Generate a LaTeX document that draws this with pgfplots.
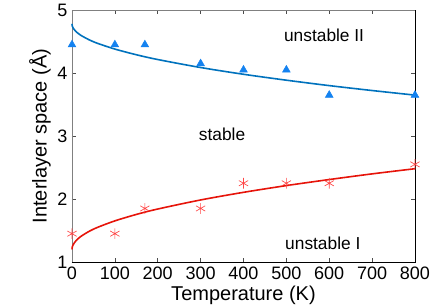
\documentclass[border=0pt]{standalone}
\usepackage{pgfplots}
\pgfplotsset{compat=1.18}
\usepackage{fontspec}
\setmainfont{Liberation Sans}
\definecolor{lineblue}{RGB}{0,114,189}
\definecolor{markblue}{RGB}{20,130,240}
\definecolor{linered}{RGB}{230,20,10}
\definecolor{markred}{RGB}{255,70,70}
\begin{document}
\begin{tikzpicture}
\path[use as bounding box] (-54pt,-32.25pt) rectangle (273pt,196.5pt);
\begin{axis}[
  at={(0,0)}, anchor=south west,
  scale only axis, width=257.25pt, height=189pt,
  xmin=0, xmax=800, ymin=1, ymax=5,
  xtick={0,100,...,800}, ytick={1,2,3,4,5},
  tick align=inside,
  tick style={black!70, line width=0.4pt},
  major tick length=3pt,
  axis line style={gray, line width=0.6pt},
  /pgf/number format/assume math mode=true,
  ticklabel style={font=\fontsize{13.5}{15}\selectfont},
  xlabel={Temperature (K)},
  ylabel={Interlayer space (Å)},
  label style={font=\fontsize{15}{17}\selectfont},
  xlabel style={yshift=2pt},
  ylabel style={yshift=-2pt},
  clip=false,
]
\addplot[lineblue, line width=1.2pt, smooth] coordinates {
(0,4.78) (0.5,4.752) (1,4.74) (2,4.723) (5,4.691) (10,4.654) (20,4.601) (40,4.527) (60,4.470) (100,4.38) (150,4.290) (200,4.214) (300,4.087) (400,3.98) (500,3.886) (600,3.80) (700,3.722) (800,3.649)};
\addplot[linered, line width=1.2pt, smooth] coordinates {
(0,1.2) (0.5,1.232) (1,1.245) (2,1.264) (5,1.301) (10,1.343) (20,1.403) (40,1.487) (60,1.551) (100,1.653) (150,1.755) (200,1.841) (300,1.985) (400,2.106) (500,2.213) (600,2.309) (700,2.399) (800,2.481)};
\addplot[only marks, mark=triangle*, mark size=3.3pt, color=markblue] coordinates {
(0,4.45) (100,4.45) (170,4.45) (300,4.15) (400,4.05) (500,4.05) (600,3.65) (800,3.65)};
\addplot[only marks, mark=asterisk, mark size=4pt, color=markred, mark options={line width=0.5pt}] coordinates {
(0,1.45) (100,1.45) (170,1.85) (300,1.85) (400,2.25) (500,2.25) (600,2.25) (800,2.55)};
\node[font=\fontsize{13}{15}\selectfont] at (axis cs:588,4.6) {unstable II};
\node[font=\fontsize{13}{15}\selectfont] at (axis cs:350,3.02) {stable};
\node[font=\fontsize{13}{15}\selectfont] at (axis cs:585,1.3) {unstable I};
\draw[black, line width=0.6pt] (rel axis cs:0,0) -- (rel axis cs:1,0) -- (rel axis cs:1,1);
\end{axis}
\end{tikzpicture}
\end{document}
